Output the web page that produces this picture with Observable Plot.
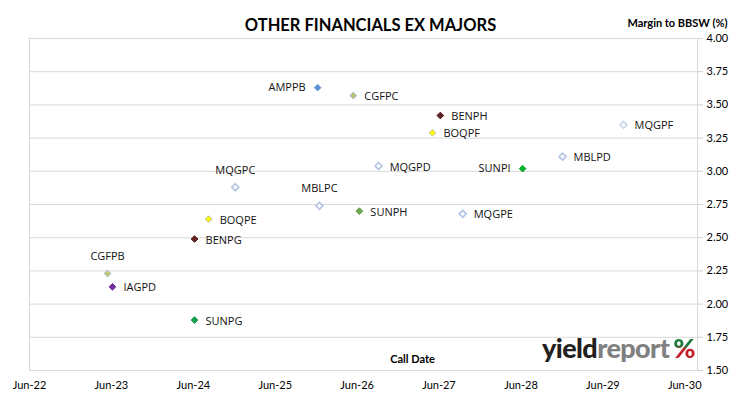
<!DOCTYPE html>
<html>
<head>
<meta charset="utf-8">
<script src="https://cdn.jsdelivr.net/npm/d3@7"></script>
<script src="https://cdn.jsdelivr.net/npm/@observablehq/plot@0.6"></script>
<style>
  html, body { margin: 0; padding: 0; background: #fff; }
  #wrap { position: relative; width: 730px; height: 399px; }
  #logo { position: absolute; left: 542px; top: 333px; font-family: Lato, sans-serif; font-weight: 900; font-size: 27px; letter-spacing: -0.6px; line-height: 30px; }
  #logo .y { color: #231f20; }
  #logo .r { color: #808080; }
  #logo .p { margin-left: 4px; background: linear-gradient(to bottom, #1a7a3a 0%, #1a7a3a 45%, #c4202b 55%, #c4202b 100%); -webkit-background-clip: text; background-clip: text; color: transparent; }
</style>
</head>
<body>
<div id="wrap"></div>
<script>
// ---- data ----
const names = ["AMPPB","CGFPC","BENPH","BOQPF","MQGPF","MBLPD","SUNPI","MQGPD","MQGPC","MBLPC","SUNPH","MQGPE","BOQPE","BENPG","CGFPB","IAGPD","SUNPG"];
const callDates = ["2025-12-07","2026-05-15","2027-06-07","2027-05-03","2029-09-01","2028-12-03","2028-06-08","2026-09-05","2024-12-05","2025-12-15","2026-06-11","2027-09-15","2024-08-08","2024-06-06","2023-05-15","2023-06-06","2024-06-06"];
const margins = [3.63,3.57,3.42,3.29,3.35,3.11,3.02,3.04,2.88,2.74,2.70,2.68,2.64,2.49,2.23,2.13,1.88];
const labelSide = ["left","right","right","right","right","right","left","right","top","top","right","right","right","right","top","right","right"];
const xTickDates = ["2022-06-01","2023-06-01","2024-06-01","2025-06-01","2026-06-01","2027-06-01","2028-06-01","2029-06-01","2030-06-01"];
const yTicks = [1.50,1.75,2.00,2.25,2.50,2.75,3.00,3.25,3.50,3.75,4.00];

// marker styles per security
const fillColor = {
  AMPPB:"#5b8fd6", CGFPC:"#b9c46a", CGFPB:"#c2c86a", BENPH:"#5e2220", BENPG:"#6a2624",
  BOQPF:"#ffff00", BOQPE:"#ffff00", SUNPI:"#00b42a", SUNPH:"#6aa84f", SUNPG:"#13a54e",
  IAGPD:"#7030a0", MQGPF:"#ffffff", MBLPD:"#ffffff", MQGPD:"#ffffff", MQGPC:"#ffffff",
  MBLPC:"#ffffff", MQGPE:"#ffffff"
};
const strokeColor = {
  AMPPB:"#6f9bd8", CGFPC:"#9ab6d8", CGFPB:"#9ab6d8", BENPH:"#4a1817", BENPG:"#4a1817",
  BOQPF:"#c0c0a0", BOQPE:"#b8b8a0", SUNPI:"#00a020", SUNPH:"#5e9a45", SUNPG:"#109045",
  IAGPD:"#6a2d98", MQGPF:"#c9d5ec", MBLPD:"#b4c5e6", MQGPD:"#b4c5e6", MQGPC:"#b4c5e6",
  MBLPC:"#b4c5e6", MQGPE:"#b4c5e6"
};

const rows = names.map((n, i) => ({name: n, date: new Date(callDates[i]), margin: margins[i], side: labelSide[i]}));
const hollow = new Set(["MQGPF","MBLPD","MQGPD","MQGPC","MBLPC","MQGPE"]);

const labelFont = {fontFamily: "'Open Sans', sans-serif", fontSize: 11, fill: "#111"};

const chart = Plot.plot({
  width: 730,
  height: 399,
  marginTop: 38,
  marginBottom: 29,
  marginLeft: 29,
  marginRight: 33,
  style: {fontFamily: "Lato, sans-serif", fontSize: "11px", color: "#000", background: "#fff"},
  x: {type: "utc", domain: [new Date("2022-06-01"), new Date("2030-07-28")]},
  y: {domain: [1.5, 4]},
  marks: [
    Plot.gridY(yTicks, {stroke: "#d9d9d9", strokeOpacity: 1}),
    Plot.frame({stroke: "#d9d9d9"}),
    Plot.axisX(xTickDates.map(d => new Date(d)), {tickSize: 0, tickPadding: 11, tickFormat: d3.utcFormat("%b-%y"), label: null, fontSize: 11, fill: "#000"}),
    Plot.axisY(yTicks, {anchor: "right", tickSize: 5, tickPadding: 4, tickFormat: d3.format(".2f"), label: null, stroke: "#cfcfcf", fill: "#000", fontSize: 11}),
    Plot.dot(rows, {x: "date", y: "margin", symbol: "diamond2",
      r: d => hollow.has(d.name) ? 2.6 : 2.4,
      fill: d => fillColor[d.name], stroke: d => strokeColor[d.name],
      strokeWidth: d => hollow.has(d.name) ? 1.7 : 1}),
    Plot.text(rows.filter(d => d.side === "right"), {x: "date", y: "margin", text: "name", textAnchor: "start", dx: 11, dy: 1, ...labelFont}),
    Plot.text(rows.filter(d => d.side === "left"), {x: "date", y: "margin", text: "name", textAnchor: "end", dx: -12, dy: 0, ...labelFont}),
    Plot.text(rows.filter(d => d.side === "top"), {x: "date", y: "margin", text: "name", textAnchor: "middle", dx: 0, dy: -17, ...labelFont}),
    Plot.text(["OTHER FINANCIALS EX MAJORS"], {frameAnchor: "top", dx: 7, dy: -19, fontSize: 16.5, fontWeight: "bold", fill: "#000", fontFamily: "Lato, sans-serif"}),
    Plot.text(["Margin to BBSW (%)"], {frameAnchor: "top", dx: 314, dy: -19, fontSize: 11, fontWeight: "bold", fill: "#000", fontFamily: "Lato, sans-serif"}),
    Plot.text(["Call Date"], {frameAnchor: "bottom", dx: 49, dy: -8, fontSize: 11, fontWeight: "bold", fill: "#000", fontFamily: "Lato, sans-serif"})
  ]
});

const wrap = document.getElementById("wrap");
wrap.appendChild(chart);
const logo = document.createElement("div");
logo.id = "logo";
logo.innerHTML = '<span class="y">yield</span><span class="r">report</span><span class="p">%</span>';
wrap.appendChild(logo);
</script>
</body>
</html>
